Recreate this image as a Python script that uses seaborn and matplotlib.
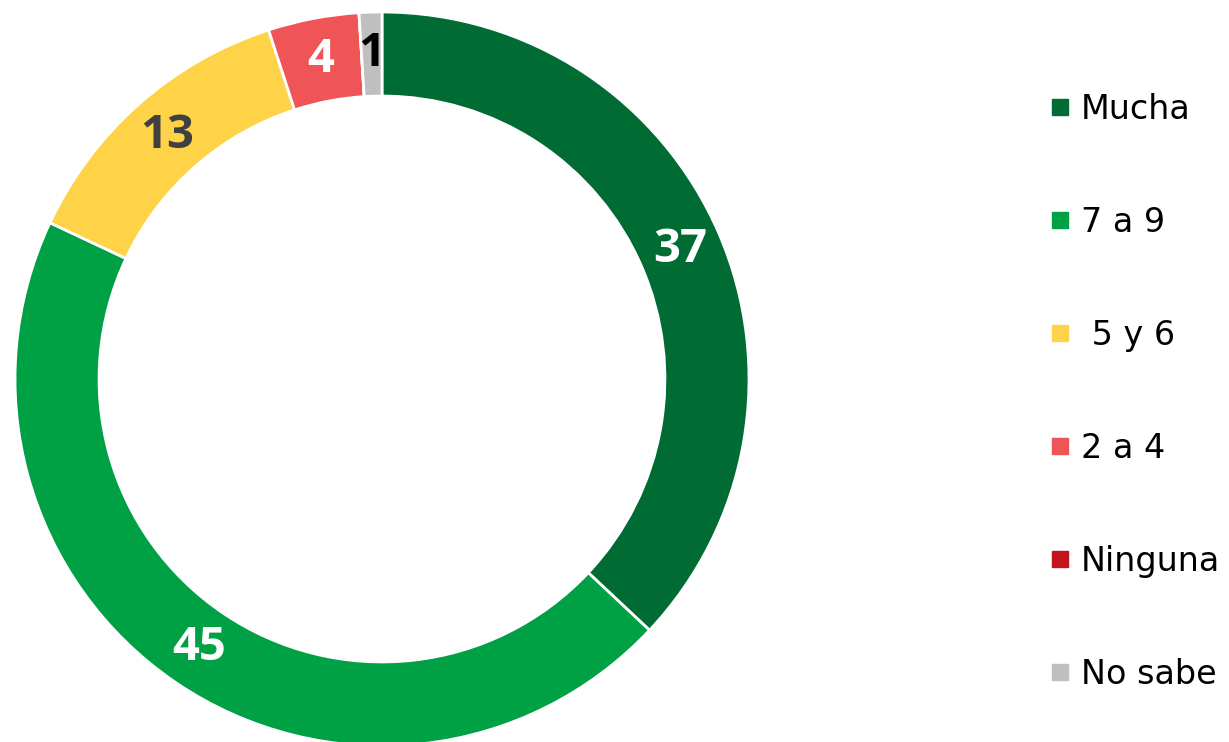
import seaborn as sns
import matplotlib.pyplot as plt
from matplotlib.lines import Line2D

# data
categories = ["Mucha", "7 a 9", " 5 y 6", "2 a 4", "Ninguna", "No sabe"]
values = [37, 45, 13, 4, 0, 1]
colors = ["#006B33", "#00A145", "#FFD347", "#EF5557", "#C0161B", "#BFBFBF"]
label_colors = ["white", "white", "#404040", "white", "white", "black"]

sns.set_theme(style="white")
plt.rcParams['font.family'] = ['DejaVu Sans']

W, H = 1229, 742
fig = plt.figure(figsize=(W / 100, H / 100), dpi=100)

# donut: centre and radius in pixels of the reference
cx, cy, r = 382, 379, 367
ax = fig.add_axes([(cx - r) / W, 1 - (cy + r) / H, 2 * r / W, 2 * r / H])

wedges, texts, autotexts = ax.pie(
    values,
    colors=colors,
    startangle=90,
    counterclock=False,
    radius=1.0,
    autopct=lambda p: f"{p:.0f}" if p > 0.5 else "",
    pctdistance=0.886,
    wedgeprops=dict(width=0.229, edgecolor="white", linewidth=2),
)
for t, c in zip(autotexts, label_colors):
    t.set_color(c)
    t.set_fontfamily("Open Sans")
    t.set_fontweight("bold")
    t.set_fontsize(34)
ax.set_xlim(-1, 1)
ax.set_ylim(-1, 1)
ax.set_aspect("equal")
ax.axis("off")
for w in wedges:
    w.set_clip_on(False)

handles = [Line2D([0], [0], marker="s", linestyle="none", markersize=12,
                  markerfacecolor=c, markeredgecolor=c) for c in colors]
fig.legend(handles, categories, loc="center left",
           bbox_to_anchor=(1044 / W, 1 - 392 / H),
           frameon=False, fontsize=24, labelcolor="black",
           borderpad=0, borderaxespad=0,
           handlelength=0.95, handletextpad=0.15, labelspacing=2.40)

fig.savefig("out.png", dpi=100)
